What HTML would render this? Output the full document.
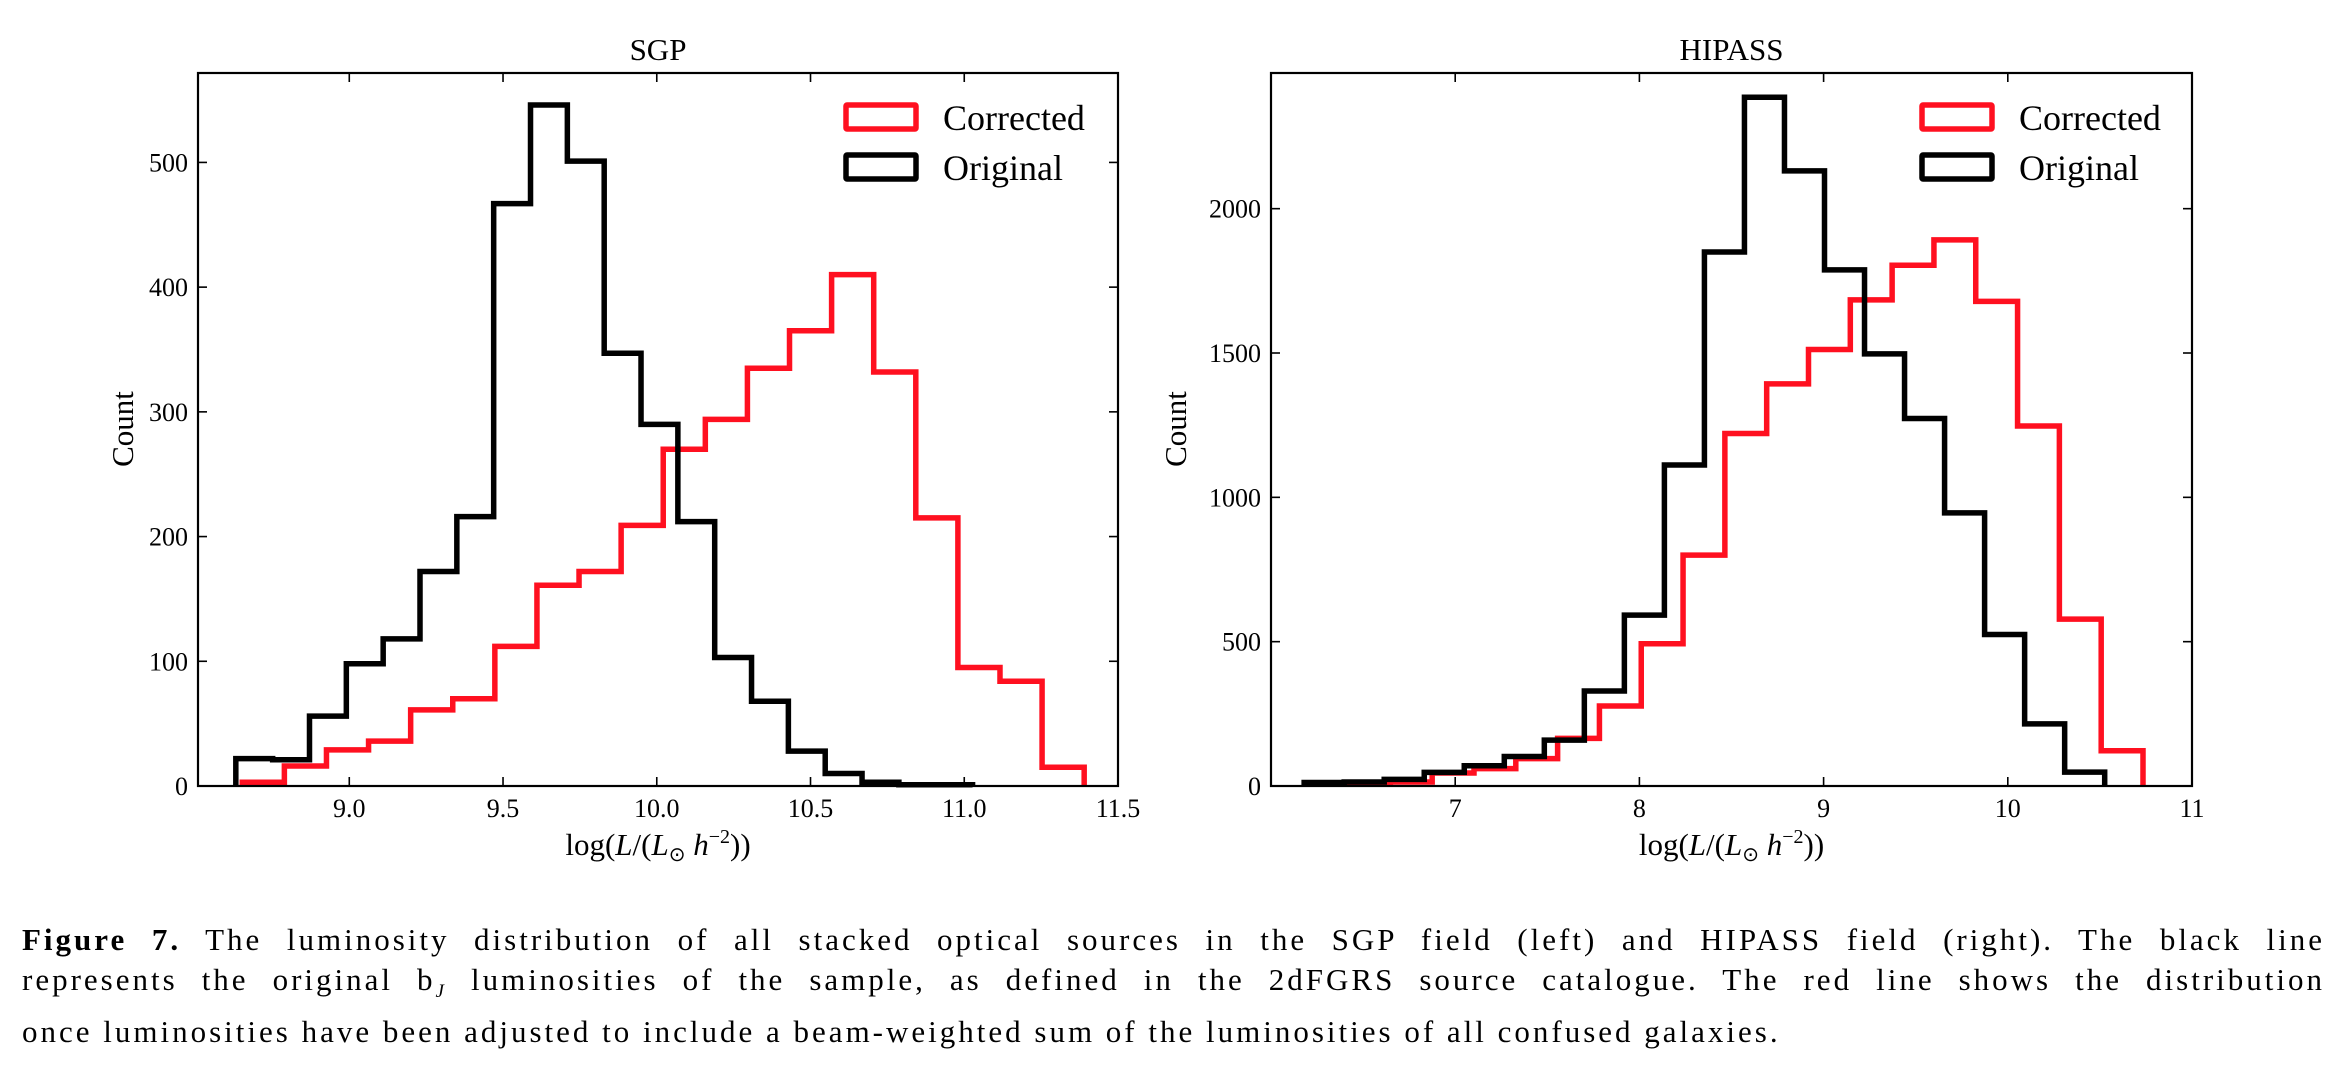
<!DOCTYPE html>
<html><head><meta charset="utf-8"><style>
html,body{margin:0;padding:0;background:#fff;}
body{width:2346px;height:1070px;overflow:hidden;position:relative;font-family:"Liberation Serif",serif;}
.cap{position:absolute;left:22px;width:2303px;font-size:31px;letter-spacing:3px;line-height:40px;color:#000;}
.cap div{text-align:justify;text-align-last:justify;white-space:nowrap;}
.cap div.last{text-align-last:left;}
</style></head><body>
<svg id="fig" width="2346" height="900" style="position:absolute;left:0;top:0" xmlns="http://www.w3.org/2000/svg" font-family="Liberation Serif, serif"></svg>
<div class="cap" style="top:920px">
<div><b>Figure 7.</b> The luminosity distribution of all stacked optical sources in the SGP field (left) and HIPASS field (right). The black line</div>
<div>represents the original b<sub style="font-size:19px;font-style:italic">J</sub> luminosities of the sample, as defined in the 2dFGRS source catalogue. The red line shows the distribution</div>
<div class="last">once luminosities have been adjusted to include a beam-weighted sum of the luminosities of all confused galaxies.</div>
</div>
<script>
// SGP data
const sgpOrigStart = 8.631, sgpOrigWidth = 0.1198;
const sgpOrig = [22,21,56,98,118,172,216,467,546,501,347,290,212,103,68,28,10,3,1,1];
const sgpCorrStart = 8.652, sgpCorrWidth = 0.1369;
const sgpCorr = [3,16,29,36,61,70,112,161,172,209,270,294,335,365,410,332,215,95,84,15];
const sgpXTicks = [9.0,9.5,10.0,10.5,11.0,11.5];
const sgpXTickLabels = ["9.0","9.5","10.0","10.5","11.0","11.5"];
const sgpYTicks = [0,100,200,300,400,500];
// HIPASS data
const hipOrigStart = 6.18, hipOrigWidth = 0.2173;
const hipOrig = [12,14,23,47,70,102,159,329,592,1112,1850,2386,2131,1788,1497,1273,946,525,215,48];
const hipCorrStart = 6.194, hipCorrWidth = 0.227;
const hipCorr = [6,9,14,45,60,95,165,277,493,800,1221,1393,1512,1684,1804,1892,1679,1247,578,122];
const hipXTicks = [7,8,9,10,11];
const hipXTickLabels = ["7","8","9","10","11"];
const hipYTicks = [0,500,1000,1500,2000];

const NS='http://www.w3.org/2000/svg';
const svg=document.getElementById('fig');
function mk(tag,attrs,parent){const e=document.createElementNS(NS,tag);for(const k in attrs)e.setAttribute(k,attrs[k]);(parent||svg).appendChild(e);return e;}

function panel(cfg){
  const g=mk('g',{});
  
  
  const L=cfg.left,R=cfg.right,T=73,B=786;
  const sx=v=>L+(v-cfg.xmin)/(cfg.xmax-cfg.xmin)*(R-L);
  const sy=v=>B-v/cfg.ymax*(B-T);
  function hist(start,w,vals,color,nm){
    let d='M'+sx(start)+','+sy(0);
    vals.forEach((v,i)=>{d+=' L'+sx(start+i*w)+','+sy(v)+' L'+sx(start+(i+1)*w)+','+sy(v);});
    d+=' L'+sx(start+vals.length*w)+','+sy(0);
    const p=mk('path',{d:d,fill:'none',stroke:color,'stroke-width':5.5,'stroke-linejoin':'miter'},g);
    
    
  }
  hist(cfg.cs,cfg.cw,cfg.corr,'#ff1020','corrected-histogram');
  hist(cfg.os,cfg.ow,cfg.orig,'#000','original-histogram');
  const fr=mk('rect',{x:L,y:T,width:R-L,height:B-T,fill:'none',stroke:'#000','stroke-width':2.2},g);
  
  
  cfg.xt.forEach((v,i)=>{
    const x=sx(v);
    mk('line',{x1:x,y1:B,x2:x,y2:B-9,stroke:'#000','stroke-width':1.6},g);
    mk('line',{x1:x,y1:T,x2:x,y2:T+9,stroke:'#000','stroke-width':1.6},g);
    const t=mk('text',{x:x,y:B+31,'font-size':26,'text-anchor':'middle'},g);
    t.textContent=cfg.xl[i];
    
    
  });
  cfg.yt.forEach(v=>{
    const y=sy(v);
    mk('line',{x1:L,y1:y,x2:L+9,y2:y,stroke:'#000','stroke-width':1.6},g);
    mk('line',{x1:R,y1:y,x2:R-9,y2:y,stroke:'#000','stroke-width':1.6},g);
    const t=mk('text',{x:L-10,y:y+9,'font-size':26,'text-anchor':'end'},g);
    t.textContent=String(v);
    
    
  });
  const ti=mk('text',{x:(L+R)/2,y:60,'font-size':31,'text-anchor':'middle'},g);
  ti.textContent=cfg.title;
  
  
  const yl=mk('text',{x:0,y:0,'font-size':31,'text-anchor':'middle',transform:'translate('+cfg.ylx+',429) rotate(-90)'},g);
  yl.textContent='Count';
  
  
  const xl=mk('text',{x:(L+R)/2,y:855,'font-size':31,'text-anchor':'middle'},g);
  xl.innerHTML='log(<tspan font-style="italic">L</tspan>/(<tspan font-style="italic">L</tspan><tspan font-size="20" dy="6">⊙</tspan><tspan dy="-6" font-style="italic"> h</tspan><tspan font-size="20" dy="-12">−2</tspan><tspan dy="12">))</tspan>';
  
  
  const lx=cfg.legx;
  [['#ff1020','Corrected',103],['#000','Original',153]].forEach(e=>{
    const lg=mk('g',{},g);
    
    
    mk('rect',{x:lx,y:e[2]+2,width:70,height:24,fill:'none',stroke:e[0],'stroke-width':5.5,rx:1},lg);
    const t=mk('text',{x:lx+97,y:e[2]+27,'font-size':36},lg);
    t.textContent=e[1];
  });
}
panel({name:'sgp-panel',left:198,right:1118,xmin:8.508,xmax:11.5,ymax:571.7,
  os:sgpOrigStart,ow:sgpOrigWidth,orig:sgpOrig,cs:sgpCorrStart,cw:sgpCorrWidth,corr:sgpCorr,
  xt:sgpXTicks,xl:sgpXTickLabels,yt:sgpYTicks,title:'SGP',ylx:133,legx:846});
panel({name:'hipass-panel',left:1271,right:2192,xmin:6.0,xmax:11.0,ymax:2470,
  os:hipOrigStart,ow:hipOrigWidth,orig:hipOrig,cs:hipCorrStart,cw:hipCorrWidth,corr:hipCorr,
  xt:hipXTicks,xl:hipXTickLabels,yt:hipYTicks,title:'HIPASS',ylx:1186,legx:1922});
</script>
</body></html>
